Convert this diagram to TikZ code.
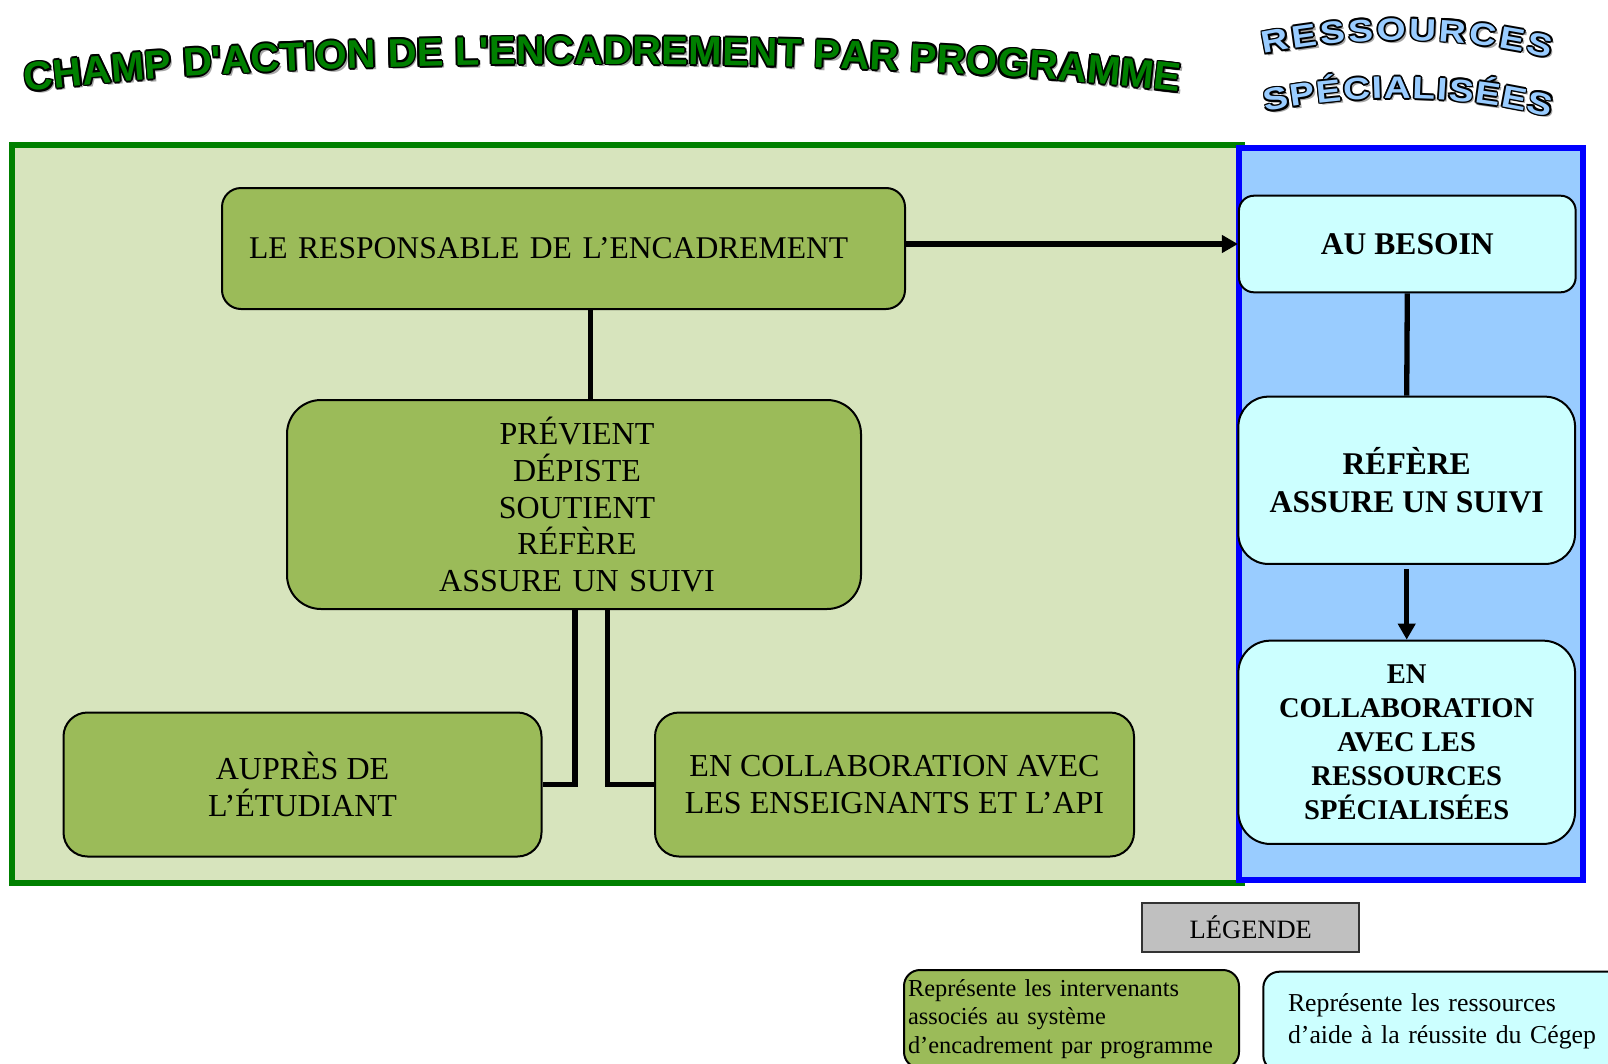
\documentclass[tikz,border=0pt]{standalone}
\usepackage{fontspec}
\setmainfont{Liberation Serif}
\newfontfamily\titleface{Liberation Sans}[UprightFont=* Bold]
\newfontfamily\wideface{Liberation Sans}[UprightFont=* Bold, FakeStretch=1.2]
\usetikzlibrary{decorations.text,arrows.meta}

\definecolor{framegreen}{HTML}{008000}
\definecolor{lightgreen}{HTML}{D7E4BD}
\definecolor{boxgreen}{HTML}{9BBB59}
\definecolor{panelblue}{HTML}{99CCFF}
\definecolor{panelborder}{HTML}{0000FF}
\definecolor{cyanbox}{HTML}{CCFFFF}
\definecolor{legendgray}{HTML}{C0C0C0}
\definecolor{titlegreen}{HTML}{007F00}
\definecolor{titleblue}{HTML}{99CCFF}

% outlined text set along a curved path: shadow, black outline, coloured face
% #1 path, #2 text (with its font prefix), #3 face colour
\newcommand\arcword[3]{%
  \path[shift={(2.6,2.6)}, decorate, decoration={text along path,
        text align=fit to path, text={#2}, text color=black!35}] #1;
  \foreach \ox/\oy in {1.7/0,-1.7/0,0/1.7,0/-1.7,1.2/1.2,-1.2/1.2,1.2/-1.2,-1.2/-1.2}{
    \path[shift={(\ox,\oy)}, decorate, decoration={text along path,
          text align=fit to path, text={#2}, text color=black}] #1;
  }
  \path[decorate, decoration={text along path,
        text align=fit to path, text={#2}, text color=#3}] #1;
}
\newcommand\greenhead{\titleface\fontsize{40}{44}\selectfont}
\newcommand\bluehead{\wideface\fontsize{31}{34}\selectfont}

\tikzset{
  gbox/.style={draw=black, line width=2pt, fill=boxgreen, inner sep=0pt,
               align=center, font=\fontsize{32}{36.8}\selectfont},
  cbox/.style={draw=black, line width=2pt, fill=cyanbox, inner sep=0pt,
               align=center, font=\bfseries\fontsize{31.6}{38}\selectfont},
  conn/.style={line width=5.3pt},
  arr/.style={conn, -{Triangle[length=16pt,width=17pt]}},
}

\begin{document}
\begin{tikzpicture}[x=1pt, y=-1pt]
\useasboundingbox (0,0) rectangle (1608,1063);
\clip (0,0) rectangle (1608,1063);
\fill[white] (0,0) rectangle (1608,1063);

% the two panels
\draw[line width=6pt, draw=framegreen, fill=lightgreen] (12,144.5) rectangle (1242,883);
\draw[line width=6pt, draw=panelborder, fill=panelblue] (1239,148) rectangle (1583,880);

% programme side
\node[gbox, rounded corners=19pt, minimum width=683, minimum height=121,
      text width=629, inner xsep=27pt, align=left, font=\fontsize{31.6}{36}\selectfont]
  (resp) at (563.5,248.5) {LE RESPONSABLE DE L’ENCADREMENT};
\node[gbox, rounded corners=34pt, minimum width=574, minimum height=209,
      text width=560, inner xsep=7pt] (roles) at (574,504.5)
  {\hspace*{6pt}PRÉVIENT\\\hspace*{6pt}DÉPISTE\\\hspace*{6pt}SOUTIENT\\\hspace*{6pt}RÉFÈRE\\\hspace*{6pt}ASSURE UN SUIVI};
\node[gbox, rounded corners=24pt, minimum width=478, minimum height=144] (aupres) at (302.5,784.5)
  {AUPRÈS DE\\L’ÉTUDIANT};
\node[gbox, rounded corners=24pt, minimum width=479, minimum height=144] (ensg) at (894.5,784.5)
  {EN COLLABORATION AVEC\\LES ENSEIGNANTS ET L’API};

% specialised resources side
\node[cbox, rounded corners=15pt, minimum width=336.7, minimum height=96.6] (besoin) at (1407.3,244)
  {AU BESOIN};
\node[cbox, rounded corners=30pt, minimum width=336.7, minimum height=167.3] (refere) at (1406.7,480.3)
  {RÉFÈRE\\ASSURE UN SUIVI};
\node[cbox, rounded corners=32pt, minimum width=336.7, minimum height=203.3,
      font=\bfseries\fontsize{28.6}{33.8}\selectfont] (encollab) at (1406.7,742.3)
  {EN\\COLLABORATION\\AVEC LES\\RESSOURCES\\SPÉCIALISÉES};

% connectors
\coordinate (xa) at (590.7,0);
\coordinate (xb) at (575,0);
\coordinate (xc) at (607.7,0);
\draw[conn] (resp.south -| xa) -- (roles.north -| xa);
\draw[conn] (roles.south -| xb) |- (aupres.east);
\draw[conn] (roles.south -| xc) |- (ensg.west);
\draw[arr] (resp.east |- besoin.west) -- (besoin.west);
\draw[conn] (besoin.south) -- (refere.north);
\draw[arr, shorten <=4pt] (refere.south) -- (encollab.north);

% legend
\node[draw=black!80, line width=2pt, fill=legendgray, minimum width=217, minimum height=49,
      inner sep=0pt, font=\fontsize{26.5}{30}\selectfont] (legend) at (1250.8,927.2) {LÉGENDE};
\node[draw=black, line width=2pt, fill=boxgreen, rounded corners=16pt,
      minimum height=98, text width=327, inner xsep=4pt, inner ysep=0pt, align=left,
      font=\fontsize{24.4}{28.3}\selectfont] (legprog) at (1071.5,1019)
  {Représente les intervenants\\associés au système\\d’encadrement par programme};
\node[draw=black, line width=2pt, fill=cyanbox, rounded corners=16pt,
      minimum height=99.6, text width=320, inner xsep=24.7pt, inner ysep=0pt, align=left,
      font=\fontsize{25.8}{31.6}\selectfont] (legres) at (1448,1021.5)
  {Représente les ressources\\d’aide à la réussite du Cégep};

% arched headings
\arcword{(26,92) .. controls (300,55) and (880,55) .. (1178,92)}
  {|\greenhead|CHAMP D{\textquotesingle}ACTION DE L{\textquotesingle}ENCADREMENT PAR PROGRAMME}{titlegreen}
\arcword{(1264,54) .. controls (1355,35) and (1460,35) .. (1550,58)}
  {|\bluehead|RESSOURCES}{titleblue}
\arcword{(1266,112) .. controls (1355,93) and (1460,93) .. (1550,117)}
  {|\bluehead|SP{É}CIALIS{É}ES}{titleblue}
\end{tikzpicture}
\end{document}
